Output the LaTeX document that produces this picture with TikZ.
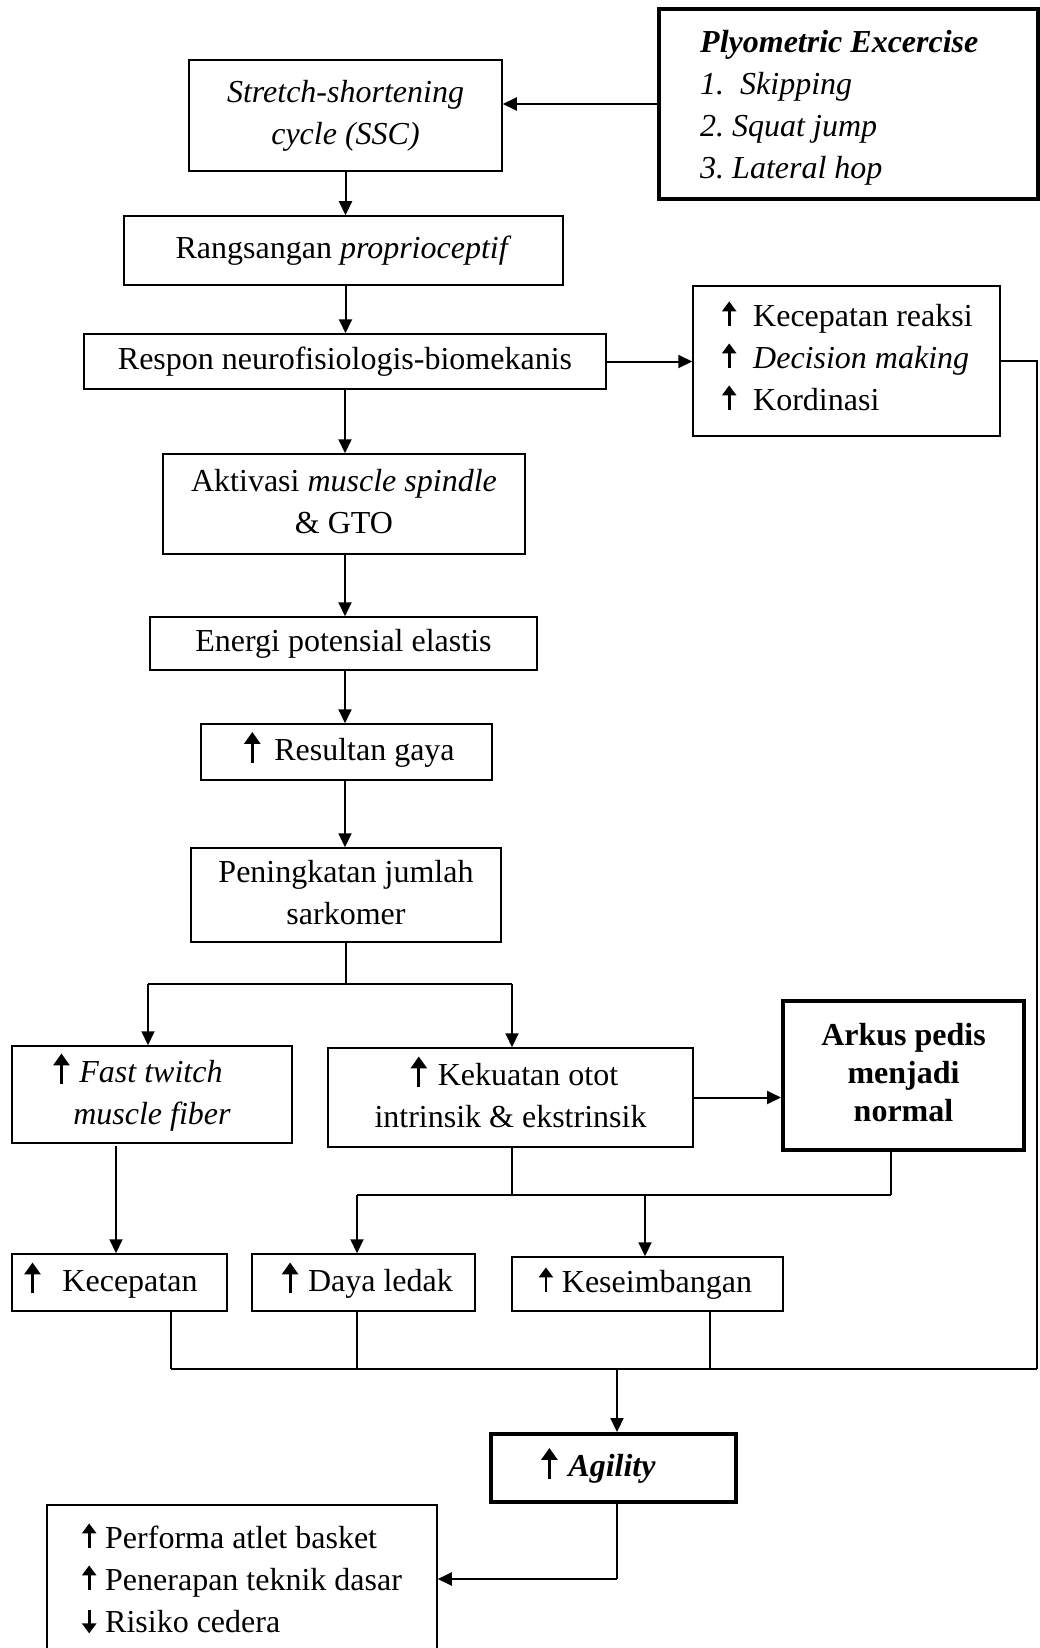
\documentclass[tikz,border=0pt]{standalone}
\usepackage{fontspec}
\setmainfont{Liberation Serif}
\usetikzlibrary{arrows.meta}
\newcommand\fs{\fontsize{32}{42}\selectfont}
\newcommand\smup{\tikz[baseline=0pt]{\path (-7pt,0pt) (7pt,0pt); \draw[line width=2.6pt,-{Triangle[length=10pt,width=14pt]}] (0pt,0pt) -- (0pt,25pt);}}
\newcommand\smdn{\tikz[baseline=0pt]{\path (-7pt,0pt) (7pt,0pt); \draw[line width=2.6pt,-{Triangle[length=10pt,width=14pt]}] (0pt,22pt) -- (0pt,-1pt);}}
\newcommand\bigup{\tikz[baseline=0pt]{\path (-8pt,0pt) (8pt,0pt); \draw[line width=3pt,-{Triangle[length=12pt,width=16pt]}] (0pt,-2pt) -- (0pt,29pt);}}
\newcommand\pad[1]{\rule{#1}{0pt}}
\tikzset{
  box/.style={draw, line width=1.5pt, inner sep=0pt, align=center, font=\fs},
  thickbox/.style={box, line width=4pt},
  txt/.style={inner sep=0pt, align=left, font=\fs, anchor=west},
  arr/.style={line width=2pt, -{Triangle[length=14pt,width=13pt]}},
  ln/.style={line width=1.5pt},
}
\begin{document}
\begin{tikzpicture}[x=1pt,y=-1pt]
\clip (0,0) rectangle (1040,1648);
\fill[white] (0,0) rectangle (1040,1648);

% boxes
\node[thickbox, minimum width=379pt, minimum height=190pt] (ply) at (848.5,104) {};
\node[txt] (plyt) at (700,107)
  {\strut\textbf{\textit{Plyometric Excercise}}\\\strut\textit{1.\ \ Skipping}\\\strut\textit{2.\ Squat jump}\\\strut\textit{3.\ Lateral hop}};
\node[box, minimum width=313pt, minimum height=111pt] (ssc) at (345.5,115.5)
  {\strut\textit{Stretch-shortening}\\\strut\textit{cycle (SSC)}};
\node[box, minimum width=439pt, minimum height=69pt] (rang) at (343.5,250.5)
  {\strut Rangsangan \textit{proprioceptif}};
\node[box, minimum width=522pt, minimum height=55pt] (resp) at (345,361.5)
  {\strut Respon neurofisiologis-biomekanis};
\node[box, minimum width=307pt, minimum height=150pt] (kr) at (846.5,361) {};
\node[txt] (krt) at (722,360)
  {\strut\smup\hspace{17pt}Kecepatan reaksi\\\strut\smup\hspace{17pt}\textit{Decision making}\\\strut\smup\hspace{17pt}Kordinasi};
\node[box, minimum width=362pt, minimum height=100pt] (akt) at (344,504)
  {\strut Aktivasi \textit{muscle spindle}\\\strut\& GTO};
\node[box, minimum width=387pt, minimum height=53pt] (ener) at (343.5,643.5)
  {\strut Energi potensial elastis};
\node[box, minimum width=291pt, minimum height=56pt] (res) at (346.5,752)
  {\strut\pad{6pt}\bigup\hspace{14pt}Resultan gaya};
\node[box, minimum width=310pt, minimum height=94pt] (pen) at (346,895)
  {\strut Peningkatan jumlah\\\strut sarkomer};
\node[box, minimum width=280pt, minimum height=97pt] (fast) at (152,1094.5)
  {\strut\bigup\hspace{10pt}\textit{Fast twitch}\pad{28pt}\\\strut\textit{muscle fiber}};
\node[box, minimum width=365pt, minimum height=99pt] (kek) at (510.5,1097.5)
  {\strut\pad{8pt}\bigup\hspace{11pt}Kekuatan otot\\\strut intrinsik \& ekstrinsik};
\node[thickbox, minimum width=241pt, minimum height=149pt] (ark) at (903.5,1075.5)
  {\strut\textbf{Arkus pedis}\\[-4pt]\strut\textbf{menjadi}\\[-4pt]\strut\textbf{normal}};
\node[box, minimum width=215pt, minimum height=57pt] (kcp) at (119.5,1282.5)
  {\strut\bigup\hspace{22pt}Kecepatan\pad{17pt}};
\node[box, minimum width=223pt, minimum height=57pt] (daya) at (363.5,1282.5)
  {\strut\pad{8pt}\bigup\hspace{10pt}Daya ledak};
\node[box, minimum width=271pt, minimum height=54pt] (kes) at (647.5,1284)
  {\strut\smup\hspace{9pt}Keseimbangan\pad{4pt}};
\node[thickbox, minimum width=245pt, minimum height=68pt] (agi) at (613.5,1468)
  {\strut\bigup\hspace{11pt}\textbf{\textit{Agility}}\pad{30pt}};
\node[box, minimum width=390pt, minimum height=148pt] (out) at (242,1579) {};
\node[txt] (outt) at (82,1582)
  {\strut\smup\hspace{9pt}Performa atlet basket\\\strut\smup\hspace{9pt}Penerapan teknik dasar\\\strut\smdn\hspace{9pt}Risiko cedera};

% junction coordinates
\coordinate (rtop) at (1037,361);
\coordinate (rbot) at (1037,1369);
\coordinate (j1) at (346,984);
\coordinate (j1l) at (148,984);
\coordinate (j1r) at (512,984);
\coordinate (j2l) at (357,1195);
\coordinate (j2m) at (645,1195);
\coordinate (j2k) at (512,1195);
\coordinate (j2r) at (891,1195);
\coordinate (bl) at (171,1369);
\coordinate (bm) at (617,1369);
\coordinate (ob) at (617,1579);
\coordinate (fb) at (116,1146);

% main chain
\draw[arr] (ply.west) -- (ply.west -| ssc.east);
\draw[arr] (ssc.south) -- (ssc.south |- rang.north);
\draw[arr] (rang.south -| ssc.south) -- (ssc.south |- resp.north);
\draw[arr] (resp.south) -- (resp.south |- akt.north);
\draw[arr] (akt.south -| resp.south) -- (resp.south |- ener.north);
\draw[arr] (ener.south -| resp.south) -- (resp.south |- res.north);
\draw[arr] (res.south -| resp.south) -- (resp.south |- pen.north);
\draw[arr] (resp.east) -- (resp.east -| kr.west);
\draw[ln] (kr.east) -- (rtop) -- (rbot);

% split
\draw[ln] (pen.south -| j1) -- (j1);
\draw[ln] (j1l) -- (j1r);
\draw[arr] (j1l) -- (j1l |- fast.north);
\draw[arr] (j1r) -- (j1r |- kek.north);
\draw[arr] (kek.east) -- (kek.east -| ark.west);
\draw[ln] (kek.south -| j2k) -- (j2k);
\draw[ln] (ark.south -| j2r) -- (j2r);
\draw[ln] (j2l) -- (j2r);
\draw[arr] (j2l) -- (j2l |- daya.north);
\draw[arr] (j2m) -- (j2m |- kes.north);
\draw[arr] (fb) -- (fb |- kcp.north);

% bottom bus
\draw[ln] (kcp.south -| bl) -- (bl);
\draw[ln] (daya.south -| j2l) -- (j2l |- bl);
\draw[ln] (kes.south -| 710,0) -- (710,1369);
\draw[line width=2pt] (bl) -- (rbot);
\draw[arr] (bm) -- (bm |- agi.north);
\draw[line width=2pt] (agi.south -| bm) -- (ob);
\draw[arr] (ob) -- (out.east |- ob);
\end{tikzpicture}
\end{document}
